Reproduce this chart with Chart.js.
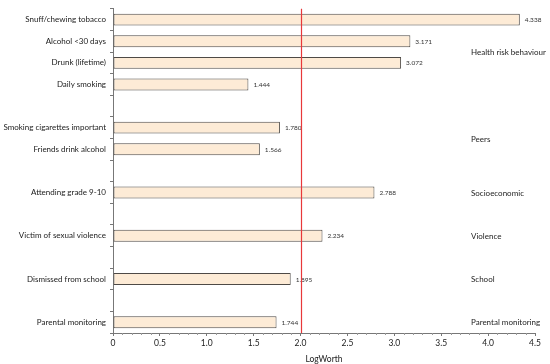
<!DOCTYPE html>
<html>
<head>
<meta charset="utf-8">
<script src="https://cdn.jsdelivr.net/npm/chart.js@4/dist/chart.umd.min.js"></script>
<style>
html,body{margin:0;padding:0;background:#fff;}
#wrap{width:550px;height:364px;position:relative;}
</style>
</head>
<body>
<div id="wrap"><canvas id="c" width="550" height="364"></canvas></div>
<script>
const categories = ["Snuff/chewing tobacco","Alcohol <30 days","Drunk (lifetime)","Daily smoking","",
  "Smoking cigarettes important","Friends drink alcohol","","Attending grade 9-10","",
  "Victim of sexual violence","","Dismissed from school","","Parental monitoring"];
const logWorth = [4.338,3.171,3.072,1.444,null,1.780,1.566,null,2.788,null,2.234,null,1.895,null,1.744];
const valueLabels = ["4.338","3.171","3.072","1.444","","1.780","1.566","","2.788","","2.234","","1.895","","1.744"];
const groupNames = ["Health risk behaviour","Peers","Socioeconomic","Violence","School","Parental monitoring"];
const groupFirst = [0,5,8,10,12,14];
const groupLast  = [3,6,8,10,12,14];
const threshold = 2.0;
const xTickValues = [0,0.5,1.0,1.5,2.0,2.5,3.0,3.5,4.0,4.5];

const FONT = "Lato, 'DejaVu Sans', sans-serif";

const overlay = {
  id: 'overlay',
  afterDraw(chart) {
    const ctx = chart.ctx, xs = chart.scales.x, ys = chart.scales.y, ca = chart.chartArea;
    ctx.save();
    ctx.setLineDash([]);
    // value labels
    ctx.font = "6.5px " + FONT;
    ctx.fillStyle = "#333";
    ctx.textBaseline = "middle";
    ctx.textAlign = "left";
    logWorth.forEach((v, i) => {
      if (v === null) return;
      ctx.fillText(valueLabels[i], xs.getPixelForValue(v) + 5, ys.getPixelForValue(i) + 0.5);
    });
    // minor ticks on x axis
    ctx.strokeStyle = "#999";
    ctx.lineWidth = 1;
    for (let k = 1; k < 45; k++) {
      if (k % 5 === 0) continue;
      const px = Math.round(xs.getPixelForValue(k / 10)) + 0.5;
      ctx.beginPath();
      ctx.moveTo(px, ca.bottom);
      ctx.lineTo(px, ca.bottom + 2);
      ctx.stroke();
    }
    // threshold line
    const tx = Math.round(xs.getPixelForValue(threshold)) + 0.5;
    ctx.strokeStyle = "#e8383a";
    ctx.lineWidth = 1.2;
    ctx.beginPath();
    ctx.moveTo(tx, ca.top);
    ctx.lineTo(tx, ca.bottom);
    ctx.stroke();
    // group labels
    ctx.font = "8px " + FONT;
    ctx.fillStyle = "#222";
    ctx.textAlign = "left";
    groupNames.forEach((g, i) => {
      const y = (ys.getPixelForValue(groupFirst[i]) + ys.getPixelForValue(groupLast[i])) / 2;
      ctx.fillText(g, chart.width - 79, y + 0.5);
    });
    ctx.restore();
  }
};

new Chart(document.getElementById('c'), {
  type: 'bar',
  data: {
    labels: categories,
    datasets: [{
      data: logWorth,
      backgroundColor: '#fdebd6',
      borderColor: '#4e4a46',
      borderWidth: 1,
      borderSkipped: false,
      categoryPercentage: 1.0,
      barPercentage: 0.55
    }]
  },
  options: {
    indexAxis: 'y',
    responsive: false,
    animation: false,
    layout: { padding: { top: 6, right: 15, left: 0, bottom: 0 } },
    plugins: { legend: { display: false }, tooltip: { enabled: false } },
    scales: {
      x: {
        type: 'linear',
        min: 0, max: 4.5,
        afterBuildTicks(scale) { scale.ticks = xTickValues.map(v => ({ value: v })); },
        afterFit(scale) { scale.height = 31; },
        ticks: {
          font: { family: FONT, size: 8.5 },
          color: '#222',
          padding: 2,
          maxRotation: 0,
          callback: v => v === 0 ? "0" : Number(v).toFixed(1)
        },
        grid: { drawOnChartArea: false, tickLength: 3, color: '#777' },
        border: { color: '#777' },
        title: { display: true, text: 'LogWorth', font: { family: FONT, size: 8.5 }, color: '#222', padding: { top: 1, bottom: 0 } }
      },
      y: {
        type: 'category',
        afterFit(scale) { scale.width = 113; },
        ticks: {
          font: { family: FONT, size: 8 },
          color: '#1a1a1a',
          padding: 4,
          autoSkip: false
        },
        grid: { drawOnChartArea: false, offset: true, tickLength: 3, color: '#777' },
        border: { color: '#777' }
      }
    }
  },
  plugins: [overlay]
});
</script>
</body>
</html>
